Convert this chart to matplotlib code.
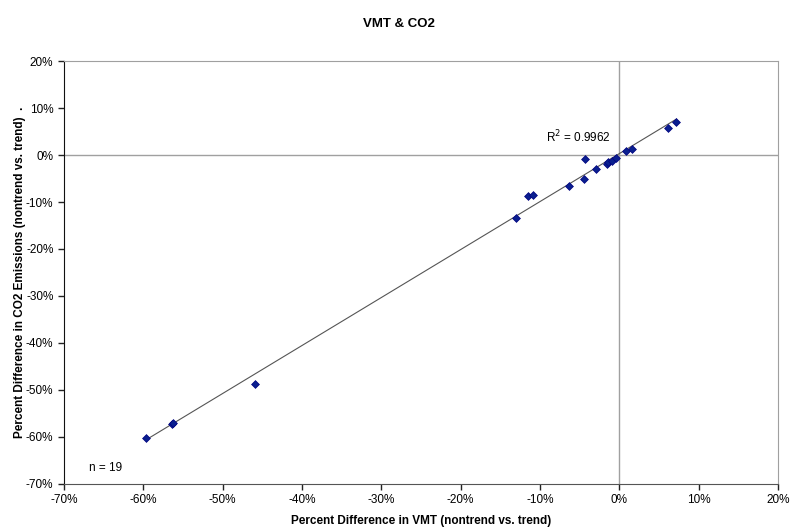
import numpy as np
import matplotlib.pyplot as plt
from matplotlib.ticker import FuncFormatter

# percent difference (nontrend vs. trend)
vmt = [-59.6, -56.4, -56.2, -45.9, -13.0, -11.5, -10.9, -6.4, -4.5, -4.3,
       -2.9, -1.6, -1.4, -0.9, -0.4, 0.9, 1.6, 6.1, 7.2]
co2 = [-60.2, -57.3, -57.0, -48.7, -13.4, -8.8, -8.6, -6.6, -5.1, -0.85,
       -3.0, -1.9, -1.5, -1.3, -0.6, 0.85, 1.3, 5.8, 7.0]

x = np.array(vmt)
y = np.array(co2)

plt.rcParams['font.family'] = ['Liberation Sans', 'DejaVu Sans']

fig = plt.figure(figsize=(7.98, 5.27), dpi=100)
ax = fig.add_axes([0.080, 0.082, 0.895, 0.802])

ax.axhline(0, color='#a0a0a0', lw=1, zorder=1)
ax.axvline(0, color='#a0a0a0', lw=1, zorder=1)

# linear trendline
m, b = np.polyfit(x, y, 1)
xs = np.array([x.min(), x.max()])
ax.plot(xs, m * xs + b, color='#555555', lw=0.8, zorder=2)

ax.scatter(x, y, marker='D', s=16, color='#0a1f8f', edgecolors='#000080',
           linewidths=0.5, zorder=3)

ax.text(-9.3, 3.8, 'R$^2$ = 0.9962', fontsize=8.5, va='center')
ax.text(-66.8, -66.6, 'n = 19', fontsize=8.5, va='center')

ax.set_xlim(-70, 20)
ax.set_ylim(-70, 20)
ax.set_xticks(np.arange(-70, 21, 10))
ax.set_yticks(np.arange(-70, 21, 10))
pct = FuncFormatter(lambda v, p: f'{v:.0f}%')
ax.xaxis.set_major_formatter(pct)
ax.yaxis.set_major_formatter(pct)
ax.tick_params(direction='out', length=4, width=1, labelsize=8.5, color='#222222')

for s in ['top', 'right']:
    ax.spines[s].set_color('#a0a0a0')
ax.spines['left'].set_color('#111111')
ax.spines['bottom'].set_color('#555555')

ax.set_xlabel('Percent Difference in VMT (nontrend vs. trend)', fontsize=8.5,
              fontweight='bold', labelpad=6)
ax.set_ylabel('Percent Difference in CO2 Emissions (nontrend vs. trend)  .',
              fontsize=8.5, fontweight='bold', labelpad=0)
fig.suptitle('VMT & CO2', x=0.5, y=0.965, fontsize=9.5, fontweight='bold')

fig.savefig('out.png', dpi=100)
